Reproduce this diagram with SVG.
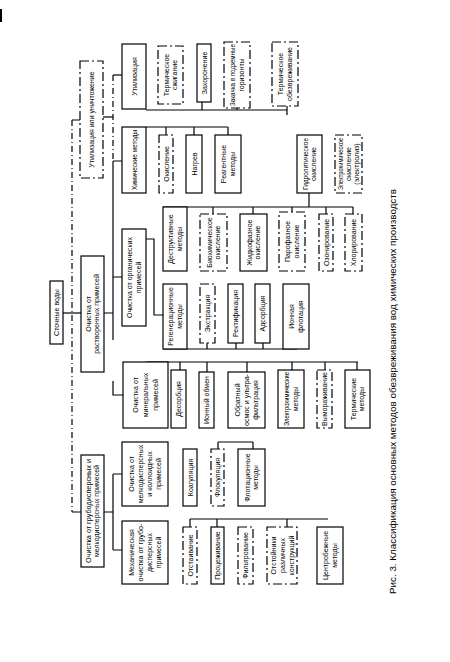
<svg xmlns="http://www.w3.org/2000/svg" width="450" height="662" viewBox="0 0 450 662">
<style>
.b{fill:#fff;stroke:#000;stroke-width:1.2}
.d{fill:#fff;stroke:#000;stroke-width:1.2;stroke-dasharray:9 3 2 3}
.t{font-family:"Liberation Sans",Arial,sans-serif;font-size:7px;fill:#000;text-anchor:middle}
.c path{fill:none;stroke:#000;stroke-width:1.2}
.c .ds{stroke-dasharray:6 3 1 3}
.cap{font-family:"Liberation Sans",Arial,sans-serif;font-size:9.5px;fill:#000;text-anchor:middle}
</style>
<rect x="0" y="9" width="2" height="13" fill="#000"/>
<g class="c" id="connectors">
<path d="M63,313H81"/>
<path class="ds" d="M72,120V512"/>
<path d="M72,120H80M72,512H81"/>
<path d="M103,117H113"/>
<path class="ds" d="M113,75V161"/>
<path d="M113,75H122"/>
<path d="M113,161V340M113,161H122M113,277H122M104,313H113"/>
<path d="M113,381V395H123"/>
<path d="M104,512H113M113,474V550M113,474H122M113,550H122"/>
<path d="M146,110H287M202,102V110M237,108V110M287,106V115"/>
<path d="M146,127H228M166,127V135M194,127V135M228,127V135"/>
<path d="M163,207H353M213,207V214M253,207V214M292,207V212M326,207V214M353,207V214M309,193V207"/>
<path d="M146,239H154V315H163"/>
<path d="M163,349H297M207,343V349M236,343V349M263,343V349"/>
<path d="M146,362H358M180,362V370M207,362V372M247,362V372M292,362V370M325,362V370M357,362V370"/>
<path d="M218,442H253M218,442V449M253,442V449"/>
<path d="M190,519H328M190,519V527M217,519V527M287,519V527"/>
</g>
<g id="root"><rect class="b" x="50" y="281" width="13" height="63"/><text class="t" transform="translate(56.5,312.5) rotate(-90)"><tspan x="0" y="2.5">Сточные воды</tspan></text></g>
<g id="l1a"><rect class="d" x="80" y="61" width="23" height="117"/><text class="t" transform="translate(91.5,119.5) rotate(-90)"><tspan x="0" y="2.5">Утилизация или уничтожение</tspan></text></g>
<g id="l1b"><rect class="b" x="81" y="256" width="23" height="116"/><text class="t" transform="translate(92.5,314) rotate(-90)"><tspan x="0" y="-1.75">Очистка от</tspan><tspan x="0" y="6.75">растворенных примесей</tspan></text></g>
<g id="l1c"><rect class="b" x="81" y="455" width="23" height="112"/><text class="t" transform="translate(92.5,511) rotate(-90)"><tspan x="0" y="-1.75" textLength="104" lengthAdjust="spacingAndGlyphs">Очистка от грубодисперсных и</tspan><tspan x="0" y="6.75">мелкодисперсных примесей</tspan></text></g>
<g id="a"><rect class="b" x="122" y="44" width="24" height="65"/><text class="t" transform="translate(134,76.5) rotate(-90)"><tspan x="0" y="2.5">Утилизация</tspan></text></g>
<g id="btop"><rect class="d" x="158" y="46" width="25" height="58"/><text class="t" transform="translate(170.5,75) rotate(-90)"><tspan x="0" y="-1.75">Термическое</tspan><tspan x="0" y="6.75">сжигание</tspan></text></g>
<g id="c"><rect class="b" x="197" y="44" width="14" height="58"/><text class="t" transform="translate(204,73) rotate(-90)"><tspan x="0" y="2.5">Захоронение</tspan></text></g>
<g id="dtop"><rect class="d" x="224" y="42" width="26" height="66"/><text class="t" transform="translate(237,75) rotate(-90)"><tspan x="0" y="-1.75" textLength="62" lengthAdjust="spacingAndGlyphs">Закачка в подземные</tspan><tspan x="0" y="6.75">горизонты</tspan></text></g>
<g id="etop"><rect class="d" x="272" y="42" width="26" height="64"/><text class="t" transform="translate(285,74) rotate(-90)"><tspan x="0" y="-1.75">Термическое</tspan><tspan x="0" y="6.75">обезвреживание</tspan></text></g>
<g id="b1"><rect class="b" x="122" y="127" width="24" height="66"/><text class="t" transform="translate(134,160) rotate(-90)"><tspan x="0" y="2.5" textLength="60" lengthAdjust="spacingAndGlyphs">Химические методы</tspan></text></g>
<g id="ox"><rect class="d" x="159" y="135" width="14" height="58"/><text class="t" transform="translate(166,164) rotate(-90)"><tspan x="0" y="2.5">Окисление</tspan></text></g>
<g id="nag"><rect class="b" x="186" y="135" width="16" height="58"/><text class="t" transform="translate(194,164) rotate(-90)"><tspan x="0" y="2.5">Нагрев</tspan></text></g>
<g id="reag"><rect class="b" x="215" y="135" width="26" height="58"/><text class="t" transform="translate(228,164) rotate(-90)"><tspan x="0" y="-1.75">Реагентные</tspan><tspan x="0" y="6.75">методы</tspan></text></g>
<g id="gidr"><rect class="b" x="297" y="135" width="25" height="58"/><text class="t" transform="translate(309.5,164) rotate(-90)"><tspan x="0" y="-1.75" textLength="52" lengthAdjust="spacingAndGlyphs">Гидролитическое</tspan><tspan x="0" y="6.75">окисление</tspan></text></g>
<g id="elox"><rect class="d" x="335" y="135" width="27" height="58"/><text class="t" transform="translate(348.5,164) rotate(-90)"><tspan x="0" y="-5.5" textLength="52" lengthAdjust="spacingAndGlyphs">Электрохимическое</tspan><tspan x="0" y="2.5">окисление</tspan><tspan x="0" y="10.5">(электролиз)</tspan></text></g>
<g id="b2"><rect class="b" x="122" y="229" width="24" height="97"/><text class="t" transform="translate(134,277.5) rotate(-90)"><tspan x="0" y="-1.75">Очистка от органических</tspan><tspan x="0" y="6.75">примесей</tspan></text></g>
<g id="destr"><rect class="b" x="163" y="207" width="24" height="64"/><text class="t" transform="translate(175,239) rotate(-90)"><tspan x="0" y="-1.75">Деструктивные</tspan><tspan x="0" y="6.75">методы</tspan></text></g>
<g id="bio"><rect class="d" x="200" y="214" width="27" height="57"/><text class="t" transform="translate(213.5,242.5) rotate(-90)"><tspan x="0" y="-1.75">Биохимическое</tspan><tspan x="0" y="6.75">окисление</tspan></text></g>
<g id="liq"><rect class="b" x="240" y="214" width="27" height="57"/><text class="t" transform="translate(253.5,242.5) rotate(-90)"><tspan x="0" y="-1.75">Жидкофазное</tspan><tspan x="0" y="6.75">окисление</tspan></text></g>
<g id="par"><rect class="d" x="279" y="212" width="26" height="59"/><text class="t" transform="translate(292,241.5) rotate(-90)"><tspan x="0" y="-1.75">Парофазное</tspan><tspan x="0" y="6.75">окисление</tspan></text></g>
<g id="oz"><rect class="d" x="319" y="214" width="14" height="57"/><text class="t" transform="translate(326,242.5) rotate(-90)"><tspan x="0" y="2.5">Озонирование</tspan></text></g>
<g id="hl"><rect class="d" x="345" y="214" width="17" height="57"/><text class="t" transform="translate(353.5,242.5) rotate(-90)"><tspan x="0" y="2.5">Хлорирование</tspan></text></g>
<g id="reg"><rect class="b" x="163" y="284" width="24" height="65"/><text class="t" transform="translate(175,316.5) rotate(-90)"><tspan x="0" y="-1.75">Регенерационные</tspan><tspan x="0" y="6.75">методы</tspan></text></g>
<g id="extr"><rect class="d" x="200" y="284" width="15" height="59"/><text class="t" transform="translate(207.5,313.5) rotate(-90)"><tspan x="0" y="2.5">Экстракция</tspan></text></g>
<g id="rect"><rect class="b" x="228" y="284" width="15" height="59"/><text class="t" transform="translate(235.5,313.5) rotate(-90)"><tspan x="0" y="2.5">Ректификация</tspan></text></g>
<g id="ads"><rect class="b" x="255" y="284" width="15" height="59"/><text class="t" transform="translate(262.5,313.5) rotate(-90)"><tspan x="0" y="2.5">Адсорбция</tspan></text></g>
<g id="ionfl"><rect class="b" x="283" y="284" width="26" height="65"/><text class="t" transform="translate(296,316.5) rotate(-90)"><tspan x="0" y="-1.75">Ионная</tspan><tspan x="0" y="6.75">флотация</tspan></text></g>
<g id="b3"><rect class="b" x="123" y="362" width="45" height="66"/><text class="t" transform="translate(145.5,395) rotate(-90)"><tspan x="0" y="-7.5">Очистка от</tspan><tspan x="0" y="2.5">минеральных</tspan><tspan x="0" y="12.5">примесей</tspan></text></g>
<g id="desorb"><rect class="b" x="171" y="370" width="15" height="58"/><text class="t" transform="translate(178.5,399) rotate(-90)"><tspan x="0" y="2.5">Десорбция</tspan></text></g>
<g id="ionx"><rect class="b" x="199" y="372" width="15" height="56"/><text class="t" transform="translate(206.5,400) rotate(-90)"><tspan x="0" y="2.5">Ионный обмен</tspan></text></g>
<g id="osm"><rect class="b" x="228" y="372" width="37" height="56"/><text class="t" transform="translate(246.5,400) rotate(-90)"><tspan x="0" y="-6.5">Обратный</tspan><tspan x="0" y="2.5" textLength="52" lengthAdjust="spacingAndGlyphs">осмос и ультра-</tspan><tspan x="0" y="11.5">фильтрация</tspan></text></g>
<g id="elch"><rect class="b" x="278" y="370" width="26" height="58"/><text class="t" transform="translate(291,399) rotate(-90)"><tspan x="0" y="-1.75" textLength="54" lengthAdjust="spacingAndGlyphs">Электрохимические</tspan><tspan x="0" y="6.75">методы</tspan></text></g>
<g id="vym"><rect class="d" x="317" y="370" width="15" height="58"/><text class="t" transform="translate(324.5,399) rotate(-90)"><tspan x="0" y="2.5">Вымораживание</tspan></text></g>
<g id="term"><rect class="b" x="345" y="370" width="25" height="58"/><text class="t" transform="translate(357.5,399) rotate(-90)"><tspan x="0" y="-1.75">Термические</tspan><tspan x="0" y="6.75">методы</tspan></text></g>
<g id="c1"><rect class="b" x="122" y="442" width="46" height="64"/><text class="t" transform="translate(145,474) rotate(-90)"><tspan x="0" y="-11">Очистка от</tspan><tspan x="0" y="-2">мелкодисперсных</tspan><tspan x="0" y="7">и коллоидных</tspan><tspan x="0" y="16">примесей</tspan></text></g>
<g id="coag"><rect class="b" x="183" y="449" width="14" height="57"/><text class="t" transform="translate(190,477.5) rotate(-90)"><tspan x="0" y="2.5">Коагуляция</tspan></text></g>
<g id="flok"><rect class="d" x="211" y="449" width="13" height="57"/><text class="t" transform="translate(217.5,477.5) rotate(-90)"><tspan x="0" y="2.5">Флокуляция</tspan></text></g>
<g id="flot"><rect class="b" x="238" y="449" width="27" height="57"/><text class="t" transform="translate(251.5,477.5) rotate(-90)"><tspan x="0" y="-1.75">Флотационные</tspan><tspan x="0" y="6.75">методы</tspan></text></g>
<g id="c2"><rect class="b" x="122" y="521" width="46" height="63"/><text class="t" transform="translate(145,552.5) rotate(-90)"><tspan x="0" y="-11">Механическая</tspan><tspan x="0" y="-2" textLength="58" lengthAdjust="spacingAndGlyphs">очистка от грубо-</tspan><tspan x="0" y="7">дисперсных</tspan><tspan x="0" y="16">примесей</tspan></text></g>
<g id="otst"><rect class="d" x="183" y="527" width="14" height="57"/><text class="t" transform="translate(190,555.5) rotate(-90)"><tspan x="0" y="2.5">Отстаивание</tspan></text></g>
<g id="proc"><rect class="b" x="211" y="527" width="13" height="57"/><text class="t" transform="translate(217.5,555.5) rotate(-90)"><tspan x="0" y="2.5">Процеживание</tspan></text></g>
<g id="filt"><rect class="d" x="238" y="527" width="15" height="57"/><text class="t" transform="translate(245.5,555.5) rotate(-90)"><tspan x="0" y="2.5">Фильтрование</tspan></text></g>
<g id="cent"><rect class="d" x="267" y="527" width="30" height="57"/><text class="t" transform="translate(282,555.5) rotate(-90)"><tspan x="0" y="-6.5">Отстойники</tspan><tspan x="0" y="2.5">различных</tspan><tspan x="0" y="11.5">конструкций</tspan></text></g>
<g id="centr"><rect class="b" x="317" y="527" width="26" height="57"/><text class="t" transform="translate(330,555.5) rotate(-90)"><tspan x="0" y="-1.75">Центробежные</tspan><tspan x="0" y="6.75">методы</tspan></text></g>
<text class="cap" transform="translate(396,391.5) rotate(-90)" textLength="405" lengthAdjust="spacingAndGlyphs">Рис. 3. Классификация основных методов обезвреживания вод химических производств</text>
</svg>
